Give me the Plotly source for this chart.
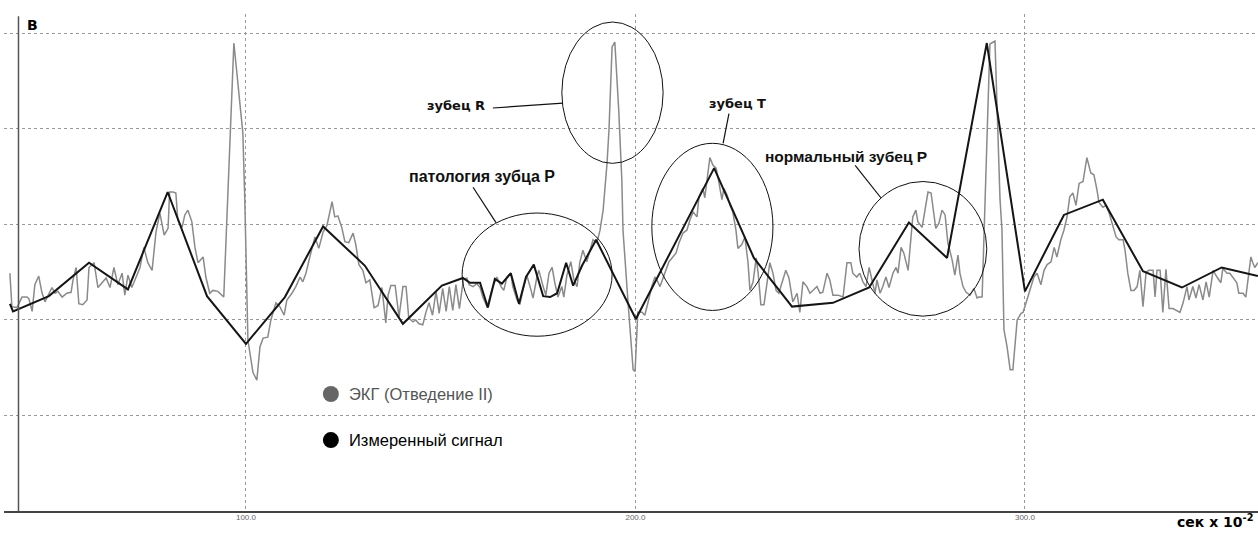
import plotly.graph_objects as go

# ---- data (x in сек x 10^-2, y in arbitrary volts units) ----
ecg_x = [39.4, 39.9, 41.2, 42.5, 43.8, 44.3, 45.1, 45.8, 46.8, 47.6, 48.4, 49.4, 50.2, 51.0, 51.7, 52.8, 54.0, 55.1, 55.6, 56.4,
         57.1, 58.1, 59.2, 59.7, 61.0, 62.0, 63.0, 64.1, 65.1, 66.1, 67.1, 68.2, 68.9, 69.7, 70.7, 71.5, 72.8, 73.8, 74.8, 75.9,
         76.9, 77.9, 79.0, 80.0, 80.4, 81.3, 82.0, 82.5, 83.6, 84.3, 85.1, 86.1, 86.9, 87.7, 89.0, 89.7, 90.7, 91.5, 92.8, 94.3,
         96.9, 99.2, 99.7, 100.5, 101.8, 102.8, 103.6, 104.4, 105.6, 106.4, 107.7, 108.7, 109.8, 110.5, 111.8, 112.8, 113.9, 114.6, 115.4, 116.4,
         117.7, 118.7, 119.8, 120.8, 122.1, 122.8, 123.6, 124.6, 125.4, 126.4, 127.5, 128.2, 129.0, 130.0, 130.8, 131.8, 132.9, 133.9, 134.9, 135.9,
         136.5, 137.2, 138.3, 139.3, 140.3, 141.1, 141.8, 142.9, 143.6, 144.4, 145.4, 146.2, 147.0, 147.9, 148.8, 149.6, 150.5, 151.4, 152.2, 153.1,
         153.9, 154.8, 155.8, 156.7, 157.3, 158.3, 159.3, 160.1, 160.8, 161.9, 162.6, 163.4, 164.4, 165.5, 166.2, 167.0, 168.0, 168.5, 169.6, 170.3,
         171.1, 172.1, 173.2, 173.7, 174.7, 175.2, 176.3, 177.0, 177.8, 178.6, 179.3, 180.1, 181.1, 181.6, 182.4, 183.4, 184.2, 185.0, 185.7, 186.5,
         187.5, 188.3, 189.1, 190.1, 190.9, 191.7, 192.2, 192.7, 193.2, 194.0, 194.7, 195.7, 196.5, 196.8, 198.1, 198.8, 199.4, 199.9, 200.4, 200.6,
         201.7, 202.4, 203.2, 204.2, 205.0, 205.5, 206.3, 207.1, 207.8, 208.6, 209.6, 210.4, 211.2, 212.2, 213.2, 214.0, 214.8, 215.8, 216.3, 217.3,
         217.8, 218.4, 219.1, 219.9, 220.7, 221.2, 222.2, 222.7, 223.5, 224.3, 225.0, 225.8, 226.3, 227.3, 228.1, 228.9, 229.4, 230.2, 231.0, 231.5,
         232.2, 233.0, 233.8, 234.5, 235.3, 236.1, 236.8, 237.9, 238.6, 239.4, 240.4, 241.5, 242.2, 243.0, 244.0, 244.8, 245.6, 246.6, 247.4, 248.1,
         249.2, 249.9, 250.7, 252.0, 253.3, 254.3, 255.3, 255.8, 256.8, 257.6, 258.4, 259.2, 260.0, 261.5, 262.0, 262.8, 263.5, 264.3, 265.1, 266.1,
         266.9, 267.4, 268.2, 268.9, 270.0, 270.7, 271.2, 272.0, 272.5, 273.6, 274.3, 275.1, 275.9, 276.4, 277.1, 277.9, 278.7, 279.5, 280.2, 281.3,
         282.0, 282.8, 283.3, 284.1, 284.9, 285.9, 286.9, 287.7, 288.2, 289.0, 289.7, 291.0, 292.3, 293.6, 294.1, 294.6, 295.4, 296.2, 296.9, 297.4,
         298.0, 299.0, 299.5, 300.5, 301.3, 302.3, 303.1, 304.1, 304.9, 305.7, 306.7, 307.5, 308.2, 309.2, 310.0, 310.8, 311.5, 312.3, 313.1, 313.9,
         314.9, 315.9, 316.9, 317.7, 318.5, 319.0, 320.0, 320.8, 321.6, 322.6, 323.4, 324.1, 325.2, 325.7, 326.4, 327.2, 328.0, 328.8, 329.5, 330.3,
         331.1, 331.8, 332.9, 333.4, 333.9, 334.7, 335.4, 336.2, 337.0, 338.0, 339.0, 339.8, 340.6, 341.6, 342.1, 343.1, 343.9, 344.7, 345.7, 346.5,
         347.3, 348.3, 349.3, 350.3, 350.8, 351.9, 352.6, 353.4, 354.4, 354.9, 356.0, 356.7, 357.5, 358.0, 358.5, 359.0, 359.8]
ecg_y = [2.49, 2.14, 2.13, 2.24, 2.24, 2.22, 2.09, 2.37, 2.46, 2.29, 2.19, 2.28, 2.34, 2.28, 2.30, 2.24, 2.28, 2.29, 2.42, 2.55,
         2.17, 2.16, 2.21, 2.55, 2.60, 2.34, 2.39, 2.44, 2.34, 2.55, 2.37, 2.49, 2.26, 2.47, 2.34, 2.42, 2.55, 2.76, 2.60, 2.52,
         2.92, 3.12, 2.89, 2.96, 3.34, 3.34, 3.33, 3.05, 2.97, 3.10, 3.15, 3.03, 2.76, 2.60, 2.66, 2.45, 2.28, 2.31, 2.30, 2.24,
         4.90, 3.96, 3.26, 1.79, 1.45, 1.37, 1.72, 1.81, 1.82, 2.00, 2.18, 2.14, 2.05, 2.21, 2.28, 2.35, 2.45, 2.40, 2.49, 2.66,
         2.87, 2.75, 2.92, 2.99, 3.24, 3.08, 3.09, 2.97, 2.82, 2.81, 2.91, 2.79, 2.58, 2.52, 2.39, 2.42, 2.13, 2.15, 2.34, 1.97,
         2.26, 2.36, 2.36, 2.03, 2.35, 2.35, 2.02, 1.98, 2.00, 1.96, 1.95, 2.08, 2.18, 2.05, 2.30, 2.07, 2.33, 2.09, 2.35, 2.10,
         2.37, 2.12, 2.42, 2.44, 2.37, 2.35, 2.38, 2.34, 2.24, 2.14, 2.23, 2.35, 2.45, 2.35, 2.31, 2.45, 2.49, 2.35, 2.21, 2.16,
         2.31, 2.47, 2.31, 2.23, 2.45, 2.52, 2.35, 2.26, 2.49, 2.55, 2.39, 2.24, 2.35, 2.24, 2.47, 2.61, 2.42, 2.35, 2.60, 2.73,
         2.61, 2.73, 2.84, 2.81, 2.94, 3.15, 3.39, 3.64, 3.99, 4.86, 4.91, 4.20, 3.47, 2.94, 2.18, 1.76, 1.48, 1.46, 1.90, 2.08,
         2.08, 2.05, 2.18, 2.35, 2.45, 2.42, 2.35, 2.44, 2.52, 2.61, 2.66, 2.70, 2.81, 2.91, 2.94, 3.05, 3.13, 3.08, 3.29, 3.38,
         3.28, 3.47, 3.70, 3.62, 3.59, 3.49, 3.26, 3.38, 3.31, 3.20, 3.13, 2.94, 2.75, 2.79, 2.87, 2.60, 2.31, 2.40, 2.65, 2.49,
         2.16, 2.16, 2.42, 2.60, 2.49, 2.31, 2.28, 2.42, 2.52, 2.44, 2.19, 2.28, 2.08, 2.40, 2.35, 2.28, 2.31, 2.35, 2.28, 2.29,
         2.49, 2.42, 2.26, 2.26, 2.24, 2.60, 2.60, 2.49, 2.45, 2.49, 2.40, 2.35, 2.55, 2.28, 2.42, 2.28, 2.35, 2.45, 2.34, 2.49,
         2.55, 2.49, 2.76, 2.70, 2.52, 2.84, 3.08, 3.15, 3.03, 2.97, 3.15, 3.34, 3.33, 3.18, 2.96, 3.01, 3.15, 3.10, 2.81, 2.63,
         2.47, 2.68, 2.49, 2.35, 2.29, 2.26, 2.33, 2.23, 2.24, 2.24, 3.26, 4.89, 4.92, 3.26, 2.94, 1.90, 1.72, 1.48, 1.48, 1.72,
         2.00, 2.07, 2.08, 2.21, 2.31, 2.45, 2.49, 2.37, 2.52, 2.58, 2.61, 2.76, 2.66, 2.84, 2.94, 3.08, 3.29, 3.33, 3.20, 3.43,
         3.45, 3.70, 3.54, 3.52, 3.36, 3.23, 3.18, 3.20, 3.12, 2.97, 2.87, 2.84, 2.84, 2.73, 2.49, 2.31, 2.31, 2.35, 2.52, 2.14,
         2.50, 2.52, 2.52, 2.24, 2.52, 2.52, 2.08, 2.53, 2.12, 2.12, 2.10, 2.08, 2.18, 2.35, 2.21, 2.35, 2.23, 2.37, 2.21, 2.40,
         2.24, 2.52, 2.45, 2.39, 2.54, 2.49, 2.49, 2.44, 2.39, 2.28, 2.28, 2.24, 2.52, 2.66, 2.60, 2.55, 2.60]

meas_x = [39.4, 40.2, 49.4, 59.7, 69.7, 79.9, 90.0, 100.0, 110.0, 119.8, 130.5, 140.3, 150.3, 155.7, 157.5, 160.1,
          162.1, 163.9, 165.7, 168.0, 170.1, 171.9, 173.9, 176.3, 178.1, 179.9, 182.2, 184.0, 186.3, 189.9, 200.1,
          220.2, 230.4, 240.2, 250.7, 260.0, 270.2, 280.0, 290.2, 300.0, 310.0, 320.0, 330.3, 340.3, 350.5, 359.8]
meas_y = [2.17, 2.09, 2.25, 2.60, 2.32, 3.34, 2.25, 1.75, 2.24, 2.98, 2.57, 1.96, 2.36, 2.44, 2.39, 2.39,
          2.13, 2.43, 2.38, 2.49, 2.17, 2.45, 2.58, 2.25, 2.24, 2.28, 2.60, 2.36, 2.57, 2.84, 2.01,
          3.59, 2.65, 2.14, 2.18, 2.34, 3.02, 2.65, 4.90, 2.30, 3.10, 3.26, 2.51, 2.34, 2.55, 2.46]

series_names = ["ЭКГ (Отведение II)", "Измеренный сигнал"]
x_ticks = [100, 200, 300]

ARIAL = "Liberation Sans, Arial, sans-serif"
DEJAVU = "DejaVu Sans, sans-serif"

fig = go.Figure()
fig.add_trace(go.Scatter(x=ecg_x, y=ecg_y, mode="lines", name=series_names[0],
                         line=dict(color="#8a8a8a", width=1.5), showlegend=False))
fig.add_trace(go.Scatter(x=meas_x, y=meas_y, mode="lines", name=series_names[1],
                         line=dict(color="#151515", width=2), showlegend=False))

shapes = []
# y axis line
shapes.append(dict(type="line", xref="x", yref="y", x0=41.6, x1=41.6, y0=0, y1=5.18,
                   line=dict(color="#555", width=1.5)))
# ellipses highlighting waves
for (x0, x1, y0, y1) in [(181.1, 207.1, 3.64, 5.12), (155.5, 194.0, 1.83, 3.12),
                         (204.2, 235.3, 2.10, 3.85), (257.4, 290.2, 2.04, 3.45)]:
    shapes.append(dict(type="circle", xref="x", yref="y", x0=x0, x1=x1, y0=y0, y1=y1,
                       line=dict(color="#111", width=1)))
# leader lines
for (x0, y0, x1, y1) in [(163.4, 4.22, 181.4, 4.27), (158.3, 3.39, 164.2, 3.02),
                         (224.0, 4.16, 222.5, 3.85), (256.4, 3.62, 263.0, 3.28)]:
    shapes.append(dict(type="line", xref="x", yref="y", x0=x0, y0=y0, x1=x1, y1=y1,
                       line=dict(color="#111", width=1.2)))
# legend dots
for (yc, col) in [(1.225, "#666666"), (0.743, "#000000")]:
    shapes.append(dict(type="circle", xref="x", yref="y", xsizemode="pixel", ysizemode="pixel",
                       xanchor=121.8, yanchor=yc, x0=-8, x1=8, y0=-8, y1=8,
                       fillcolor=col, line=dict(color=col, width=0)))

annotations = [
    dict(x=162.0, y=4.25, text="<b>зубец R</b>", xanchor="right", yanchor="middle", showarrow=False,
         font=dict(family=DEJAVU, size=13, color="#111")),
    dict(x=160.6, y=3.50, text="<b>патология зубца Р</b>", xanchor="center", yanchor="middle", showarrow=False,
         font=dict(family=ARIAL, size=16, color="#111")),
    dict(x=226.1, y=4.27, text="<b>зубец Т</b>", xanchor="center", yanchor="middle", showarrow=False,
         font=dict(family=DEJAVU, size=13, color="#111")),
    dict(x=254.0, y=3.71, text="<b>нормальный зубец Р</b>", xanchor="center", yanchor="middle", showarrow=False,
         font=dict(family=ARIAL, size=15.5, color="#111")),
    dict(x=125.9, y=1.225, text=series_names[0], xanchor="left", yanchor="middle", showarrow=False,
         font=dict(family=ARIAL, size=16.5, color="#555")),
    dict(x=125.9, y=0.743, text=series_names[1], xanchor="left", yanchor="middle", showarrow=False,
         font=dict(family=ARIAL, size=16.5, color="#000")),
    dict(x=43.3, y=5.09, text="<b>В</b>", xanchor="left", yanchor="middle", showarrow=False,
         font=dict(family=DEJAVU, size=14, color="#000")),
    dict(xref="paper", yref="paper", x=0.9976, y=-0.021, text="<b>сек x 10<sup>-2</sup></b>",
         xanchor="right", yanchor="middle", showarrow=False,
         font=dict(family=DEJAVU, size=14, color="#000")),
]

fig.update_layout(
    width=1258, height=534,
    margin=dict(l=4, r=0, t=14, b=23),
    paper_bgcolor="white", plot_bgcolor="white",
    shapes=shapes, annotations=annotations,
    showlegend=False,
    xaxis=dict(range=[37.88, 359.83], tickmode="array", tickvals=x_ticks,
               ticktext=[f"{v:.1f}" for v in x_ticks],
               showgrid=True, gridcolor="#999", griddash="dot", gridwidth=1,
               showline=True, linecolor="#444", linewidth=2, zeroline=False,
               ticks="", ticklabelstandoff=-3,
               tickfont=dict(family=ARIAL, size=8, color="#666")),
    yaxis=dict(range=[0, 5.204], tick0=0, dtick=1, showticklabels=False,
               showgrid=True, gridcolor="#999", griddash="dot", gridwidth=1,
               showline=False, zeroline=False, ticks=""),
)

fig.write_html("out.html", config={"displayModeBar": False},
               post_script="document.body.style.margin='0';document.body.style.padding='0';")
